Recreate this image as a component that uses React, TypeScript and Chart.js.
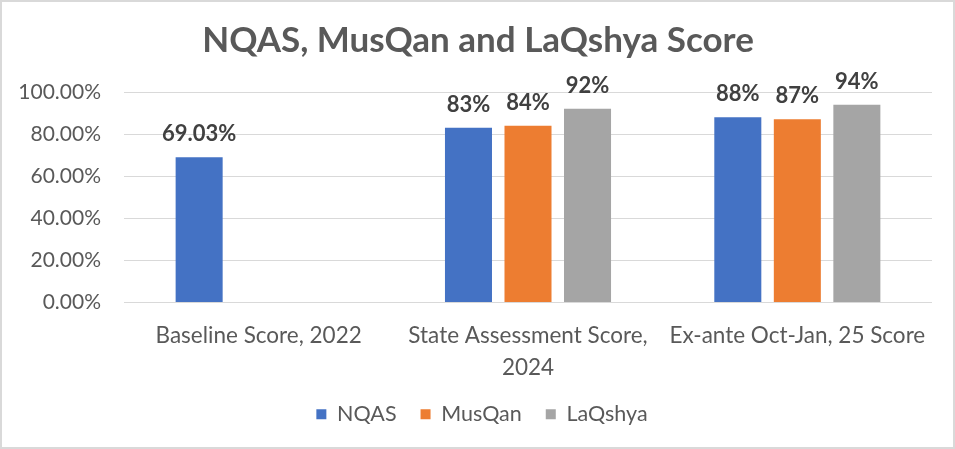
import { useEffect, useRef } from "react";
import { Chart, registerables } from "chart.js";

Chart.register(...registerables);

const categories = [
  "Baseline Score, 2022",
  ["State Assessment Score,", "2024"],
  "Ex-ante Oct-Jan, 25 Score",
];
const nqas = [69.03, 83, 88];
const musqan = [null, 84, 87];
const laqshya = [null, 92, 94];
const yTicks = [0, 20, 40, 60, 80, 100];

const FONT = "Lato, 'Open Sans', sans-serif";

// etiquetas de valor acima das barras
const valueLabels = {
  id: "valueLabels",
  afterDatasetsDraw(chart: any) {
    const ctx = chart.ctx;
    ctx.save();
    ctx.font = `bold 22px ${FONT}`;
    ctx.fillStyle = "#404040";
    ctx.textAlign = "center";
    ctx.textBaseline = "alphabetic";
    chart.data.datasets.forEach((ds: any, i: number) => {
      const meta = chart.getDatasetMeta(i);
      meta.data.forEach((bar: any, j: number) => {
        const v = ds.data[j];
        if (v === null || v === undefined) return;
        const txt = Number.isInteger(v) ? `${v}%` : `${v.toFixed(2)}%`;
        ctx.fillText(txt, bar.x, bar.y - 16);
      });
    });
    ctx.restore();
  },
};

// centraliza título e legenda como no Excel (deslocamento horizontal)
const shiftBlocks = {
  id: "shiftBlocks",
  afterLayout(chart: any) {
    if (chart.titleBlock) {
      chart.titleBlock.left += 11;
      chart.titleBlock.right += 11;
    }
    if (chart.legend) {
      chart.legend.left += 15;
      chart.legend.right += 15;
    }
  },
};

export default function App() {
  const canvasRef = useRef<HTMLCanvasElement>(null);
  const chartRef = useRef<Chart | null>(null);

  useEffect(() => {
    if (!canvasRef.current) return;
    if (chartRef.current) chartRef.current.destroy();

    const bar = (label: string, data: any[], color: string) => ({
      label,
      data,
      backgroundColor: color,
      borderWidth: 0,
      categoryPercentage: 0.663,
      barPercentage: 0.79,
    });

    chartRef.current = new Chart(canvasRef.current, {
      type: "bar",
      data: {
        labels: categories as any,
        datasets: [
          bar("NQAS", nqas, "#4472C4"),
          bar("MusQan", musqan, "#ED7D31"),
          bar("LaQshya", laqshya, "#A5A5A5"),
        ],
      },
      options: {
        animation: false,
        responsive: true,
        maintainAspectRatio: false,
        layout: { padding: { left: 0, right: 21, top: 0, bottom: 12 } },
        plugins: {
          title: {
            display: true,
            text: "NQAS, MusQan and LaQshya Score",
            color: "#595959",
            font: { family: FONT, size: 35, weight: "bold", lineHeight: 1.2 },
            padding: { top: 18, bottom: 30 },
          },
          legend: {
            position: "bottom",
            labels: {
              boxWidth: 10,
              boxHeight: 10,
              padding: 24,
              color: "#595959",
              font: { family: FONT, size: 21.5 },
            },
          },
          tooltip: { enabled: false },
        },
        scales: {
          x: {
            grid: { display: false, drawTicks: false },
            border: { display: false },
            ticks: {
              color: "#595959",
              padding: 17,
              maxRotation: 0,
              autoSkip: false,
              font: { family: FONT, size: 22.5, lineHeight: 1.42 },
            },
            afterFit: (scale: any) => {
              scale.height = 77;
            },
          },
          y: {
            min: 0,
            max: 100,
            afterBuildTicks: (scale: any) => {
              scale.ticks = yTicks.map((v) => ({ value: v }));
            },
            grid: { color: "#D9D9D9", lineWidth: 1, drawTicks: false },
            border: { display: false },
            ticks: {
              color: "#595959",
              padding: 23,
              font: { family: FONT, size: 21 },
              callback: (v: any) => `${Number(v).toFixed(2)}%`,
            },
            afterFit: (scale: any) => {
              scale.width = 122;
            },
          },
        },
      },
      plugins: [valueLabels, shiftBlocks],
    });

    return () => {
      if (chartRef.current) {
        chartRef.current.destroy();
        chartRef.current = null;
      }
    };
  }, []);

  return (
    <div
      style={{
        position: "fixed",
        left: 0,
        top: 0,
        width: 955,
        height: 449,
        boxSizing: "border-box",
        border: "2px solid #D9D9D9",
        background: "#FFFFFF",
      }}
    >
      <div style={{ position: "relative", width: 951, height: 445 }}>
        <canvas ref={canvasRef} />
      </div>
    </div>
  );
}
